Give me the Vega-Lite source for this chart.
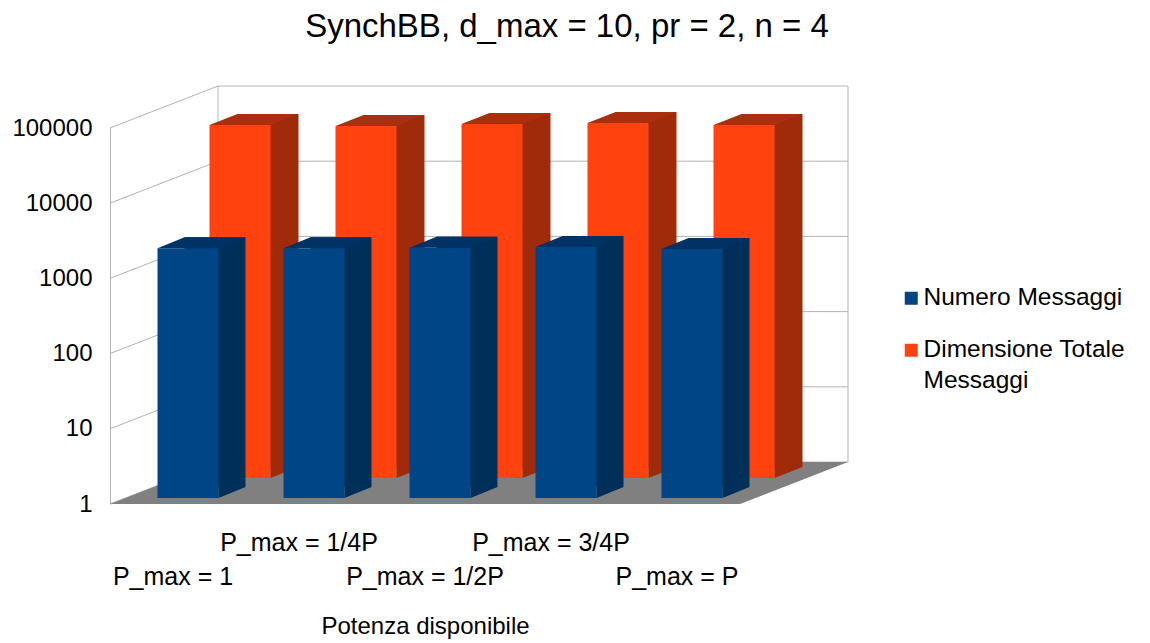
{
  "$schema": "https://vega.github.io/schema/vega-lite/v6.json",
  "width": 630,
  "height": 376,
  "autosize": "none",
  "padding": {"left": 110, "top": 128, "right": 410, "bottom": 139},
  "background": "white",
  "config": {
    "font": "Liberation Sans",
    "view": {"stroke": null},
    "style": {"guide-label": {"lineHeight": 31}},
    "axisY": {
      "format": "d",
      "ticks": false,
      "grid": false,
      "domain": true,
      "domainColor": "#b3b3b3",
      "domainWidth": 1,
      "labelFont": "Liberation Sans",
      "labelFontSize": 24,
      "labelColor": "#000000",
      "labelPadding": 18
    },
    "axisX": {
      "titleFont": "Liberation Sans",
      "titleFontSize": 24,
      "titleFontWeight": "normal",
      "titleColor": "#000000",
      "titlePadding": 25,
      "labelAngle": 0,
      "labelFont": "Liberation Sans",
      "labelFontSize": 25,
      "labelColor": "#000000",
      "labelExpr": "indexof(['P_max = 1/4P', 'P_max = 3/4P'], datum.label) >= 0 ? datum.label : ['', datum.label]",
      "labelBaseline": "alphabetic",
      "labelPadding": 46,
      "labelLineHeight": 34,
      "labelLimit": 400,
      "labelOverlap": false,
      "ticks": false,
      "domain": false,
      "grid": false
    }
  },
  "title": {
    "text": "SynchBB, d_max = 10, pr = 2, n = 4",
    "fontSize": 33,
    "fontWeight": "normal",
    "font": "Liberation Sans",
    "color": "#000000",
    "anchor": "middle",
    "frame": "group",
    "baseline": "alphabetic",
    "dx": 142,
    "offset": 14
  },
  "datasets": {
    "misure": [
      {"cat": "P_max = 1", "serie": "Numero Messaggi", "value": 2100},
      {"cat": "P_max = 1/4P", "serie": "Numero Messaggi", "value": 2100},
      {"cat": "P_max = 1/2P", "serie": "Numero Messaggi", "value": 2120},
      {"cat": "P_max = 3/4P", "serie": "Numero Messaggi", "value": 2180},
      {"cat": "P_max = P", "serie": "Numero Messaggi", "value": 2050},
      {"cat": "P_max = 1", "serie": "Dimensione Totale Messaggi", "value": 49500},
      {"cat": "P_max = 1/4P", "serie": "Dimensione Totale Messaggi", "value": 48000},
      {"cat": "P_max = 1/2P", "serie": "Dimensione Totale Messaggi", "value": 51000},
      {"cat": "P_max = 3/4P", "serie": "Dimensione Totale Messaggi", "value": 52500},
      {"cat": "P_max = P", "serie": "Dimensione Totale Messaggi", "value": 49500}
    ],
    "decadi": [{"v": 1}, {"v": 10}, {"v": 100}, {"v": 1000}, {"v": 10000}, {"v": 100000}],
    "vuoto": [{}]
  },
  "layer": [
    {
      "data": {"name": "vuoto"},
      "mark": {"type": "rule", "color": "#b3b3b3", "strokeWidth": 1, "xOffset": 108, "yOffset": -42, "y2Offset": -42},
      "encoding": {
        "x": {"datum": "P_max = 1", "type": "nominal", "bandPosition": 0, "title": "Potenza disponibile", "scale": {"type": "band", "domain": ["P_max = 1", "P_max = 1/4P", "P_max = 1/2P", "P_max = 3/4P", "P_max = P"], "paddingInner": 0, "paddingOuter": 0}},
        "y": {"datum": 1, "type": "quantitative", "title": null, "scale": {"type": "log", "domain": [1, 100000], "nice": false}, "axis": {"values": [1, 10, 100, 1000, 10000, 100000]}},
        "y2": {"datum": 100000}
      }
    },
    {
      "data": {"name": "vuoto"},
      "mark": {"type": "rule", "color": "#b3b3b3", "strokeWidth": 1, "xOffset": 108, "yOffset": -42, "y2Offset": -42},
      "encoding": {
        "x": {"datum": "P_max = P", "type": "nominal", "bandPosition": 1, "title": "Potenza disponibile", "scale": {"type": "band", "domain": ["P_max = 1", "P_max = 1/4P", "P_max = 1/2P", "P_max = 3/4P", "P_max = P"], "paddingInner": 0, "paddingOuter": 0}},
        "y": {"datum": 1, "type": "quantitative", "title": null, "scale": {"type": "log", "domain": [1, 100000], "nice": false}, "axis": {"values": [1, 10, 100, 1000, 10000, 100000]}},
        "y2": {"datum": 100000}
      }
    },
    {
      "data": {"name": "decadi"},
      "mark": {"type": "point", "shape": "M0,0L108,-42L738,-42", "size": 4, "filled": false, "stroke": "#b3b3b3", "strokeWidth": 1, "opacity": 1},
      "encoding": {
        "x": {"datum": "P_max = 1", "type": "nominal", "bandPosition": 0, "title": "Potenza disponibile", "scale": {"type": "band", "domain": ["P_max = 1", "P_max = 1/4P", "P_max = 1/2P", "P_max = 3/4P", "P_max = P"], "paddingInner": 0, "paddingOuter": 0}},
        "y": {"field": "v", "type": "quantitative", "title": null, "scale": {"type": "log", "domain": [1, 100000], "nice": false}, "axis": {"values": [1, 10, 100, 1000, 10000, 100000]}}
      }
    },
    {
      "data": {"name": "vuoto"},
      "mark": {"type": "point", "shape": "M0,0L630,0L738,-42L108,-42Z", "size": 4, "filled": true, "fill": "#808080", "strokeWidth": 0, "opacity": 1},
      "encoding": {
        "x": {"datum": "P_max = 1", "type": "nominal", "bandPosition": 0, "title": "Potenza disponibile", "scale": {"type": "band", "domain": ["P_max = 1", "P_max = 1/4P", "P_max = 1/2P", "P_max = 3/4P", "P_max = P"], "paddingInner": 0, "paddingOuter": 0}},
        "y": {"datum": 1, "type": "quantitative", "title": null, "scale": {"type": "log", "domain": [1, 100000], "nice": false}, "axis": {"values": [1, 10, 100, 1000, 10000, 100000]}}
      }
    },
    {
      "data": {"name": "misure"},
      "transform": [{"filter": "datum.serie === 'Dimensione Totale Messaggi'"}],
      "mark": {"type": "bar", "width": {"band": 0.484}, "color": "#9f2b0b", "xOffset": 95, "x2Offset": 95, "yOffset": -37, "y2Offset": -37},
      "encoding": {
        "x": {"field": "cat", "type": "nominal", "title": "Potenza disponibile", "scale": {"type": "band", "domain": ["P_max = 1", "P_max = 1/4P", "P_max = 1/2P", "P_max = 3/4P", "P_max = P"], "paddingInner": 0, "paddingOuter": 0}},
        "y": {"field": "value", "type": "quantitative", "title": null, "scale": {"type": "log", "domain": [1, 100000], "nice": false}, "axis": {"values": [1, 10, 100, 1000, 10000, 100000]}},
        "y2": {"datum": 1}
      }
    },
    {
      "data": {"name": "misure"},
      "transform": [{"filter": "datum.serie === 'Dimensione Totale Messaggi'"}],
      "mark": {"type": "point", "shape": "M97.5,-26L125.5,-37L97.5,-37Z", "size": 4, "filled": true, "fill": "#9f2b0b", "strokeWidth": 0, "opacity": 1},
      "encoding": {
        "x": {"field": "cat", "type": "nominal", "title": "Potenza disponibile", "scale": {"type": "band", "domain": ["P_max = 1", "P_max = 1/4P", "P_max = 1/2P", "P_max = 3/4P", "P_max = P"], "paddingInner": 0, "paddingOuter": 0}},
        "y": {"datum": 1, "type": "quantitative", "title": null, "scale": {"type": "log", "domain": [1, 100000], "nice": false}, "axis": {"values": [1, 10, 100, 1000, 10000, 100000]}}
      }
    },
    {
      "data": {"name": "misure"},
      "transform": [{"filter": "datum.serie === 'Dimensione Totale Messaggi'"}],
      "mark": {"type": "point", "shape": "M36.5,-26L64.5,-37L125.5,-37L97.5,-26Z", "size": 4, "filled": true, "fill": "#aa300d", "strokeWidth": 0, "opacity": 1},
      "encoding": {
        "x": {"field": "cat", "type": "nominal", "title": "Potenza disponibile", "scale": {"type": "band", "domain": ["P_max = 1", "P_max = 1/4P", "P_max = 1/2P", "P_max = 3/4P", "P_max = P"], "paddingInner": 0, "paddingOuter": 0}},
        "y": {"field": "value", "type": "quantitative", "title": null, "scale": {"type": "log", "domain": [1, 100000], "nice": false}, "axis": {"values": [1, 10, 100, 1000, 10000, 100000]}}
      }
    },
    {
      "data": {"name": "misure"},
      "transform": [{"filter": "datum.serie === 'Dimensione Totale Messaggi'"}],
      "mark": {"type": "bar", "width": {"band": 0.484}, "color": "#ff420e", "xOffset": 67, "x2Offset": 67, "yOffset": -26, "y2Offset": -26},
      "encoding": {
        "x": {"field": "cat", "type": "nominal", "title": "Potenza disponibile", "scale": {"type": "band", "domain": ["P_max = 1", "P_max = 1/4P", "P_max = 1/2P", "P_max = 3/4P", "P_max = P"], "paddingInner": 0, "paddingOuter": 0}},
        "y": {"field": "value", "type": "quantitative", "title": null, "scale": {"type": "log", "domain": [1, 100000], "nice": false}, "axis": {"values": [1, 10, 100, 1000, 10000, 100000]}},
        "y2": {"datum": 1}
      }
    },
    {
      "data": {"name": "misure"},
      "transform": [{"filter": "datum.serie === 'Numero Messaggi'"}],
      "mark": {"type": "bar", "width": {"band": 0.484}, "color": "#002f5a", "xOffset": 42, "x2Offset": 42, "yOffset": -17, "y2Offset": -17},
      "encoding": {
        "x": {"field": "cat", "type": "nominal", "title": "Potenza disponibile", "scale": {"type": "band", "domain": ["P_max = 1", "P_max = 1/4P", "P_max = 1/2P", "P_max = 3/4P", "P_max = P"], "paddingInner": 0, "paddingOuter": 0}},
        "y": {"field": "value", "type": "quantitative", "title": null, "scale": {"type": "log", "domain": [1, 100000], "nice": false}, "axis": {"values": [1, 10, 100, 1000, 10000, 100000]}},
        "y2": {"datum": 1}
      }
    },
    {
      "data": {"name": "misure"},
      "transform": [{"filter": "datum.serie === 'Numero Messaggi'"}],
      "mark": {"type": "point", "shape": "M45.5,-6L72.5,-17L45.5,-17Z", "size": 4, "filled": true, "fill": "#002f5a", "strokeWidth": 0, "opacity": 1},
      "encoding": {
        "x": {"field": "cat", "type": "nominal", "title": "Potenza disponibile", "scale": {"type": "band", "domain": ["P_max = 1", "P_max = 1/4P", "P_max = 1/2P", "P_max = 3/4P", "P_max = P"], "paddingInner": 0, "paddingOuter": 0}},
        "y": {"datum": 1, "type": "quantitative", "title": null, "scale": {"type": "log", "domain": [1, 100000], "nice": false}, "axis": {"values": [1, 10, 100, 1000, 10000, 100000]}}
      }
    },
    {
      "data": {"name": "misure"},
      "transform": [{"filter": "datum.serie === 'Numero Messaggi'"}],
      "mark": {"type": "point", "shape": "M-15.5,-6L11.5,-17L72.5,-17L45.5,-6Z", "size": 4, "filled": true, "fill": "#003363", "strokeWidth": 0, "opacity": 1},
      "encoding": {
        "x": {"field": "cat", "type": "nominal", "title": "Potenza disponibile", "scale": {"type": "band", "domain": ["P_max = 1", "P_max = 1/4P", "P_max = 1/2P", "P_max = 3/4P", "P_max = P"], "paddingInner": 0, "paddingOuter": 0}},
        "y": {"field": "value", "type": "quantitative", "title": null, "scale": {"type": "log", "domain": [1, 100000], "nice": false}, "axis": {"values": [1, 10, 100, 1000, 10000, 100000]}}
      }
    },
    {
      "data": {"name": "misure"},
      "transform": [{"filter": "datum.serie === 'Numero Messaggi'"}],
      "mark": {"type": "bar", "width": {"band": 0.484}, "xOffset": 15, "x2Offset": 15, "yOffset": -6, "y2Offset": -6},
      "encoding": {
        "x": {"field": "cat", "type": "nominal", "title": "Potenza disponibile", "scale": {"type": "band", "domain": ["P_max = 1", "P_max = 1/4P", "P_max = 1/2P", "P_max = 3/4P", "P_max = P"], "paddingInner": 0, "paddingOuter": 0}},
        "y": {"field": "value", "type": "quantitative", "title": null, "scale": {"type": "log", "domain": [1, 100000], "nice": false}, "axis": {"values": [1, 10, 100, 1000, 10000, 100000]}},
        "y2": {"datum": 1},
        "color": {
          "field": "serie",
          "type": "nominal",
          "scale": {"domain": ["Numero Messaggi", "Dimensione Totale Messaggi"], "range": ["#004586", "#ff420e"]},
          "legend": {
            "orient": "none",
            "legendX": 789,
            "legendY": 158,
            "title": null,
            "symbolType": "square",
            "symbolSize": 169,
            "symbolStrokeWidth": 0,
            "labelFont": "Liberation Sans",
            "labelFontSize": 24.5,
            "labelColor": "#000000",
            "labelLimit": 400,
            "labelOffset": 0,
            "labelExpr": "datum.label === 'Dimensione Totale Messaggi' ? ['Dimensione Totale', 'Messaggi'] : datum.label",
            "rowPadding": 27
          }
        }
      }
    }
  ]
}
